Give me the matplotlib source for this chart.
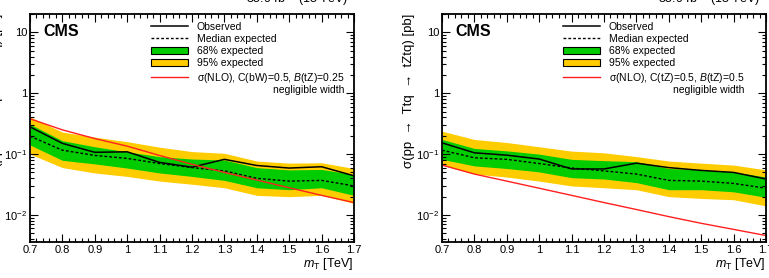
import matplotlib
matplotlib.use("Agg")
import matplotlib.pyplot as plt
from matplotlib.patches import Patch
from matplotlib.lines import Line2D
from matplotlib.ticker import FixedLocator, FixedFormatter, MultipleLocator, LogLocator, NullFormatter

plt.rcParams['font.family'] = ['Liberation Sans', 'DejaVu Sans']
plt.rcParams['mathtext.fontset'] = 'custom'
plt.rcParams['mathtext.rm'] = 'Liberation Sans'
plt.rcParams['mathtext.it'] = 'Liberation Sans:italic'

# T mass points [TeV]
mT = [0.7, 0.8, 0.9, 1.0, 1.1, 1.2, 1.3, 1.4, 1.5, 1.6, 1.7]
mT_labels = ['0.7', '0.8', '0.9', '1', '1.1', '1.2', '1.3', '1.4', '1.5', '1.6', '1.7']

# left: T -> tZ produced with b quark
obs_tb = [0.28, 0.150, 0.107, 0.109, 0.073, 0.061, 0.082, 0.065, 0.059, 0.062, 0.044]
exp_tb = [0.197, 0.116, 0.095, 0.085, 0.070, 0.060, 0.053, 0.040, 0.036, 0.037, 0.030]
g_hi_tb = [0.31, 0.166, 0.132, 0.109, 0.091, 0.083, 0.080, 0.060, 0.055, 0.056, 0.046]
g_lo_tb = [0.141, 0.079, 0.069, 0.059, 0.049, 0.043, 0.037, 0.028, 0.026, 0.028, 0.021]
y_hi_tb = [0.41, 0.23, 0.19, 0.16, 0.13, 0.11, 0.103, 0.077, 0.071, 0.072, 0.058]
y_lo_tb = [0.10, 0.060, 0.049, 0.043, 0.036, 0.032, 0.028, 0.021, 0.020, 0.021, 0.0155]
theory_tb = [0.38, 0.25, 0.18, 0.135, 0.095, 0.068, 0.050, 0.0375, 0.028, 0.021, 0.016]

# right: T -> tZ produced with t quark
obs_tt = [0.153, 0.105, 0.096, 0.083, 0.057, 0.057, 0.071, 0.060, 0.054, 0.050, 0.039]
exp_tt = [0.116, 0.087, 0.082, 0.070, 0.059, 0.053, 0.047, 0.037, 0.036, 0.033, 0.0275]
g_hi_tt = [0.174, 0.124, 0.113, 0.100, 0.082, 0.078, 0.075, 0.058, 0.055, 0.051, 0.042]
g_lo_tt = [0.082, 0.064, 0.058, 0.051, 0.041, 0.039, 0.034, 0.026, 0.026, 0.024, 0.0195]
y_hi_tt = [0.238, 0.174, 0.155, 0.132, 0.112, 0.105, 0.091, 0.077, 0.071, 0.066, 0.055]
y_lo_tt = [0.066, 0.047, 0.042, 0.036, 0.030, 0.028, 0.026, 0.020, 0.0187, 0.0178, 0.0141]
theory_tt = [0.066, 0.047, 0.036, 0.0275, 0.021, 0.016, 0.0123, 0.0094, 0.0073, 0.0058, 0.0046]

GREEN = '#00cc00'
YELLOW = '#ffcc00'
RED = '#ff2020'


def draw_panel(ax, obs, exp, ghi, glo, yhi, ylo, theory, ylabel, theory_label):
    ax.fill_between(mT, ylo, yhi, color=YELLOW, lw=0)
    ax.fill_between(mT, glo, ghi, color=GREEN, lw=0)
    ax.plot(mT, exp, color='black', ls=(0, (2, 1.5)), lw=1.0)
    ax.plot(mT, obs, color='black', lw=1.1)
    ax.plot(mT, theory, color=RED, lw=1.0)

    ax.set_yscale('log')
    ax.set_xlim(0.7, 1.7)
    ax.set_ylim(0.0036, 20)

    ax.xaxis.set_major_locator(FixedLocator(mT))
    ax.xaxis.set_major_formatter(FixedFormatter(mT_labels))
    ax.xaxis.set_minor_locator(MultipleLocator(0.02))
    ax.yaxis.set_major_locator(FixedLocator([0.01, 0.1, 1, 10]))
    ax.yaxis.set_major_formatter(FixedFormatter(['$10^{-2}$', '$10^{-1}$', '1', '10']))
    ax.yaxis.set_minor_locator(LogLocator(base=10, subs=range(2, 10)))
    ax.yaxis.set_minor_formatter(NullFormatter())

    ax.tick_params(which='both', direction='in', top=True, right=True, labelsize=8, width=0.8)
    ax.tick_params(which='major', length=6, pad=2)
    ax.tick_params(which='minor', length=3)
    for s in ax.spines.values():
        s.set_linewidth(1.3)

    ax.set_xlabel(r'$m_\mathrm{T}$ [TeV]', fontsize=9, loc='right', labelpad=1)
    ax.set_ylabel(ylabel, fontsize=9.5, loc='top')
    ax.yaxis.set_label_coords(-0.083, 1.0)

    ax.text(0.04, 0.955, 'CMS', transform=ax.transAxes, fontsize=11.5,
            fontweight='bold', va='top', ha='left')
    ax.text(0.98, 1.025, r'35.9 fb$^{-1}$ (13 TeV)', transform=ax.transAxes,
            fontsize=9, ha='right', va='bottom')

    handles = [Line2D([], [], color='black', lw=1.1),
               Line2D([], [], color='black', ls=(0, (2, 1.5)), lw=1.0),
               Patch(facecolor=GREEN, edgecolor='black', lw=0.8),
               Patch(facecolor=YELLOW, edgecolor='black', lw=0.8),
               Line2D([], [], color=RED, lw=1.0)]
    labels = ['Observed', 'Median expected', '68% expected', '95% expected', theory_label]
    leg = ax.legend(handles, labels, loc='upper left', bbox_to_anchor=(0.36, 0.985),
                    frameon=False, fontsize=7.5, handlelength=3.6, handleheight=0.7,
                    handletextpad=0.8, labelspacing=0.22, borderaxespad=0)
    return leg


fig = plt.figure(figsize=(7.69, 2.78), dpi=100)
ax1 = fig.add_axes([30 / 769, 1 - 242 / 278, 324 / 769, 228 / 278])
ax2 = fig.add_axes([442 / 769, 1 - 242 / 278, 324 / 769, 228 / 278])

leg1 = draw_panel(ax1, obs_tb, exp_tb, g_hi_tb, g_lo_tb, y_hi_tb, y_lo_tb, theory_tb,
                  'σ(pp  →  Tbq  →  tZbq) [pb]',
                  r'σ(NLO), C(bW)=0.5, $\mathit{B}$(tZ)=0.25')
leg2 = draw_panel(ax2, obs_tt, exp_tt, g_hi_tt, g_lo_tt, y_hi_tt, y_lo_tt, theory_tt,
                  'σ(pp  →  Ttq  →  tZtq) [pb]',
                  r'σ(NLO), C(tZ)=0.5, $\mathit{B}$(tZ)=0.5')

# "negligible width" line sits under the last legend entry, right aligned to it
fig.canvas.draw()
for ax, leg in [(ax1, leg1), (ax2, leg2)]:
    bb = leg.get_texts()[-1].get_window_extent()
    x1, y0 = ax.transAxes.inverted().transform((bb.x1, bb.y0))
    ax.text(x1, y0 - 0.003, 'negligible width', transform=ax.transAxes,
            fontsize=7.5, ha='right', va='top')

fig.savefig('out.png', dpi=100)
